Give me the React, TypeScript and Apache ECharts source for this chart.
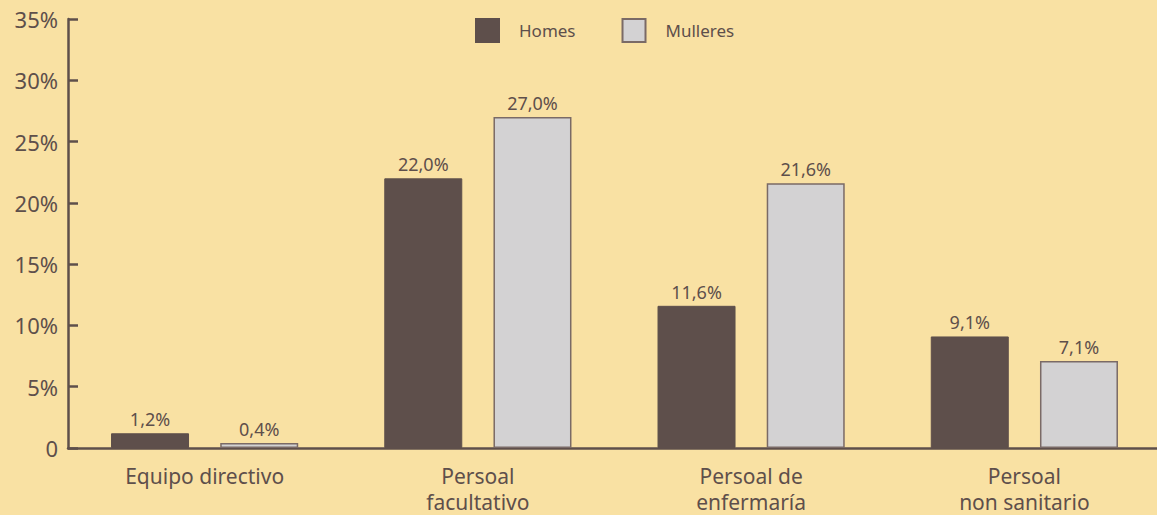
import React, { useEffect, useRef } from "react";
import * as echarts from "echarts";

const categories = ["Equipo directivo", "Persoal\nfacultativo", "Persoal de\nenfermaría", "Persoal\nnon sanitario"];
const homes = [1.2, 22.0, 11.6, 9.1];
const mulleres = [0.4, 27.0, 21.6, 7.1];
const seriesNames = ["Homes", "Mulleres"];

const TEXT = "#5E4F4B";
const FONT = "Noto Sans";

export default function App() {
  const ref = useRef<HTMLDivElement>(null);
  useEffect(() => {
    document.body.style.margin = "0";
    const chart = echarts.init(ref.current!, null, { renderer: "svg" });
    const fmt = (p: any) => Number(p.value).toFixed(1).replace(".", ",") + "%";
    chart.setOption({
      animation: false,
      backgroundColor: "#F9E1A3",
      textStyle: { fontFamily: FONT, color: TEXT },
      legend: {
        left: 475,
        top: 18,
        padding: 0,
        icon: "rect",
        itemWidth: 23,
        itemHeight: 23,
        itemGap: 46,
        textStyle: { fontSize: 17, color: TEXT, fontFamily: FONT, padding: [0, 0, 0, 15] },
        data: seriesNames,
      },
      grid: { left: 68, top: 19, width: 1093, height: 429, containLabel: false, outerBoundsMode: "none" },
      xAxis: {
        type: "category",
        data: categories,
        axisLine: { lineStyle: { color: TEXT, width: 2.5 } },
        axisTick: { inside: true, length: 10, lineStyle: { color: TEXT, width: 2.5 } },
        axisLabel: { fontSize: 21, color: TEXT, fontFamily: FONT, margin: 15, lineHeight: 26 },
      },
      yAxis: {
        type: "value",
        min: 0,
        max: 35,
        interval: 5,
        axisLine: { show: true, lineStyle: { color: TEXT, width: 2.5 } },
        axisTick: { show: true, inside: true, length: 10, lineStyle: { color: TEXT, width: 2.5 } },
        splitLine: { show: false },
        axisLabel: {
          fontSize: 22,
          color: TEXT,
          fontFamily: FONT,
          margin: 10,
          formatter: (v: number) => (v === 0 ? "0" : v + "%"),
        },
      },
      series: [
        {
          name: seriesNames[0],
          type: "bar",
          data: homes,
          barWidth: 78,
          barGap: "40%",
          itemStyle: { color: "#5E4F4B", borderColor: "#5E4F4B", borderWidth: 1 },
          label: { show: true, position: "top", distance: 5, fontSize: 18, color: TEXT, fontFamily: FONT, formatter: fmt },
        },
        {
          name: seriesNames[1],
          type: "bar",
          data: mulleres,
          barWidth: 78,
          itemStyle: { color: "#D3D2D3", borderColor: "#7A6A66", borderWidth: 1.5 },
          label: { show: true, position: "top", distance: 5, fontSize: 18, color: TEXT, fontFamily: FONT, formatter: fmt },
        },
      ],
    });
    return () => chart.dispose();
  }, []);
  return <div ref={ref} style={{ width: 1157, height: 515 }} />;
}
